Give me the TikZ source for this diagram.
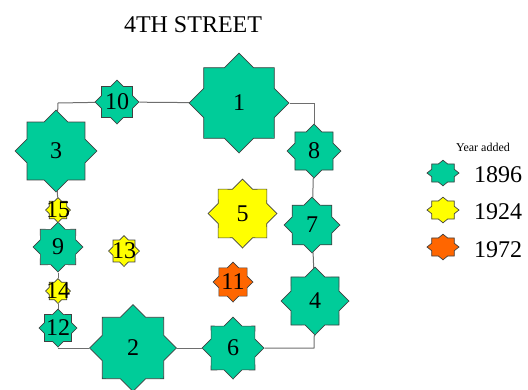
\documentclass[tikz,border=0pt]{standalone}
\usepackage{fontspec}
\setmainfont{Liberation Serif}
\usetikzlibrary{shapes.geometric}
\definecolor{yr1896}{RGB}{0,204,153}
\definecolor{yr1924}{RGB}{255,255,0}
\definecolor{yr1972}{RGB}{255,102,0}
\definecolor{streetgray}{RGB}{110,110,110}

\begin{document}
\begin{tikzpicture}[x=1pt,y=-1pt,font=\fontsize{24}{28}\selectfont]
\tikzset{
  bldg/.style={star,star points=8,star point ratio=1.31,inner sep=0pt,draw=black!75,line width=0.7pt},
  old/.style={bldg,fill=yr1896},
  mid/.style={bldg,fill=yr1924},
  new/.style={bldg,fill=yr1972},
  street/.style={draw=streetgray,line width=1pt},
  keytxt/.style={inner sep=0pt,anchor=west}
}
\useasboundingbox (0,0) rectangle (528,389);
\node(title)[inner sep=0pt,anchor=base] at (193,32.3){4TH STREET};
% corners of the block
\coordinate(nw) at (58,103); \coordinate(ne) at (314,103);
\coordinate(se) at (314,348); \coordinate(sw) at (58,348);
% buildings
\node(b1)[old,minimum size=100pt,label={center:1}] at (239,103){};
\node(b10)[old,minimum size=44pt,label={center:10}] at (117,102){};
\node(b3)[old,minimum size=82pt,label={center:3}] at (56,151){};
\node(b15)[mid,minimum size=25pt,label={center:15}] at (58,210){};
\node(b9)[old,minimum size=50pt,label={center:9}] at (58,247){};
\node(b14)[mid,minimum size=25pt,label={center:14}] at (58,291){};
\node(b12)[old,minimum size=38pt,label={center:12}] at (58,328){};
\node(b2)[old,minimum size=87pt,label={center:2}] at (133,348){};
\node(b6)[old,minimum size=62pt,label={center:6}] at (233,348){};
\node(b4)[old,minimum size=68pt,label={center:4}] at (315,301){};
\node(b7)[old,minimum size=56pt,label={center:7}] at (312,225){};
\node(b8)[old,minimum size=54pt,label={center:8}] at (314,151){};
\node(b5)[mid,minimum size=69pt,label={center:5}] at (242.5,213.5){};
\node(b11)[new,minimum size=40pt,label={center:11}] at (233,282){};
\node(b13)[mid,minimum size=31pt,label={center:13}] at (124,251){};
% street
\draw[street](nw)--(b10); \draw[street](b10)--(b1); \draw[street](b1)--(ne)--(b8);
\draw[street](b8)--(b7); \draw[street](b7)--(b4); \draw[street](b4)--(se)--(b6);
\draw[street](b6)--(b2); \draw[street](b2)--(sw)--(b12); \draw[street](b12)--(b14);
\draw[street](b14)--(b9); \draw[street](b9)--(b15); \draw[street](b15)--(b3);
\draw[street](b3)--(nw);
% legend
\node(key)[inner sep=0pt,font=\fontsize{12}{14}\selectfont] at (483,147){Year added};
\node(k1)[old,minimum size=32pt,yscale=0.8,transform shape] at (443,173){};
\node(k2)[mid,minimum size=32pt,yscale=0.8,transform shape] at (443,210){};
\node(k3)[new,minimum size=32pt,yscale=0.8,transform shape] at (443,247){};
\node(t1)[keytxt] at (474,175){1896};
\node(t2)[keytxt] at (474,212){1924};
\node(t3)[keytxt] at (474,249.5){1972};
\end{tikzpicture}
\end{document}
